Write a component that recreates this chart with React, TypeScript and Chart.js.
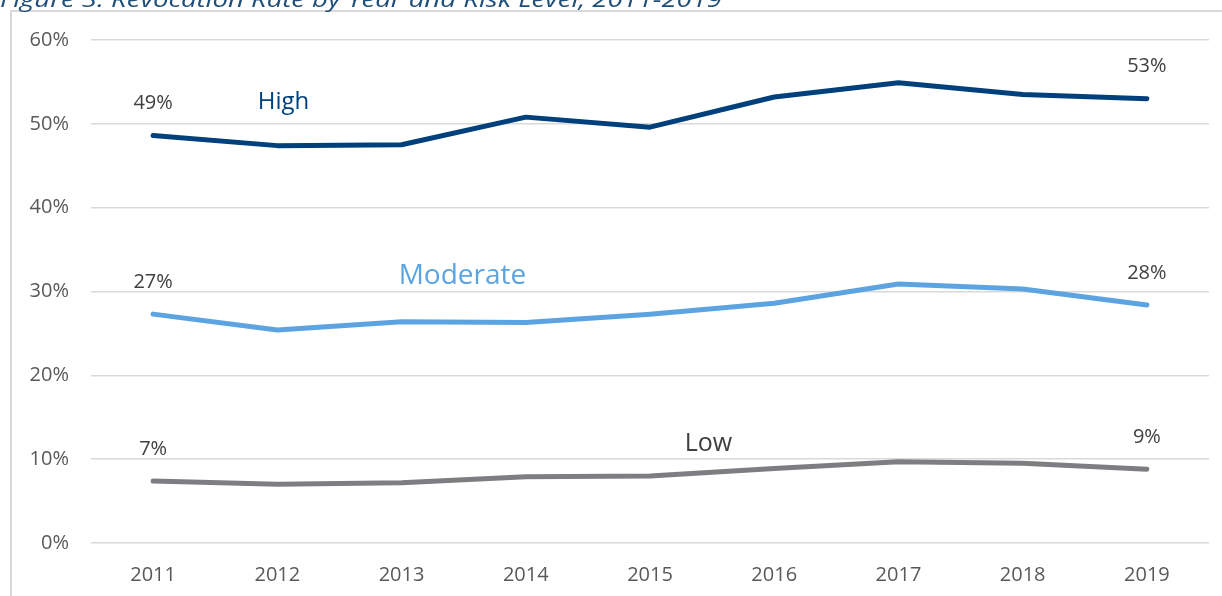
import React, { useEffect, useRef } from "react";
import { Chart, registerables } from "chart.js";

Chart.register(...registerables);

const titleText = "Figure 3. Revocation Rate by Year and Risk Level, 2011-2019";
const years = ["2011", "2012", "2013", "2014", "2015", "2016", "2017", "2018", "2019"];
const seriesNames = ["High", "Moderate", "Low"];
const highRates = [48.6, 47.4, 47.5, 50.8, 49.6, 53.2, 54.9, 53.5, 53.0];
const moderateRates = [27.3, 25.4, 26.4, 26.3, 27.3, 28.6, 30.9, 30.3, 28.4];
const lowRates = [7.4, 7.0, 7.2, 7.9, 8.0, 8.9, 9.7, 9.5, 8.8];
const yMin = 0;
const yMax = 60;
const yStep = 10;

// styling / placement (not data)
const seriesColors = ["#00407C", "#5BA4E1", "#7E7E82"];
const nameFonts = [24, 28, 25];
const namePlacement = [
  { index: 1.05, value: 52.6 },
  { index: 2.49, value: 31.9 },
  { index: 4.47, value: 11.8 },
];
const FONT = "'Open Sans', 'Noto Sans', sans-serif";

const decorPlugin = {
  id: "decor",
  beforeDraw(chart: any) {
    const ctx = chart.ctx;
    ctx.save();
    ctx.fillStyle = "#ffffff";
    ctx.fillRect(0, 0, chart.width, chart.height);
    ctx.fillStyle = "#D9D9D9";
    ctx.fillRect(10, 10, 2, chart.height);
    ctx.fillRect(10, 10, chart.width, 2);
    ctx.font = `italic 21px ${FONT}`;
    ctx.fillStyle = "#1F4E79";
    ctx.textBaseline = "alphabetic";
    ctx.textAlign = "left";
    const w = ctx.measureText(titleText).width;
    const target = 722;
    ctx.translate(0, 7);
    ctx.scale(target / w, 1);
    ctx.fillText(titleText, 0, 0);
    ctx.restore();
  },
  afterDatasetsDraw(chart: any) {
    const ctx = chart.ctx;
    const xs = chart.scales.x;
    const ys = chart.scales.y;
    ctx.save();
    ctx.textAlign = "center";
    ctx.textBaseline = "middle";
    chart.data.datasets.forEach((ds: any, i: number) => {
      const vals = ds.data as number[];
      ctx.font = `20px ${FONT}`;
      ctx.fillStyle = "#404040";
      const ends = [0, vals.length - 1];
      ends.forEach((idx) => {
        const x = xs.getPixelForValue(idx);
        const y = ys.getPixelForValue(vals[idx]) - 32;
        ctx.fillText(Math.round(vals[idx]) + "%", x, y);
      });
      const p = namePlacement[i];
      const xi = Math.floor(p.index);
      const frac = p.index - xi;
      const x0 = xs.getPixelForValue(xi);
      const x1 = xs.getPixelForValue(xi + 1);
      ctx.font = `${nameFonts[i]}px ${FONT}`;
      ctx.fillStyle = i === 2 ? "#404040" : seriesColors[i];
      ctx.fillText(seriesNames[i], x0 + (x1 - x0) * frac, ys.getPixelForValue(p.value));
    });
    ctx.restore();
  },
};

export default function App() {
  const ref = useRef<HTMLCanvasElement | null>(null);
  useEffect(() => {
    if (!ref.current) return;
    const seriesData = [highRates, moderateRates, lowRates];
    const chart = new Chart(ref.current, {
      type: "line",
      data: {
        labels: years,
        datasets: seriesData.map((d, i) => ({
          label: seriesNames[i],
          data: d,
          borderColor: seriesColors[i],
          backgroundColor: seriesColors[i],
          borderWidth: 5,
          pointRadius: 0,
          tension: 0,
          borderCapStyle: "round",
          borderJoinStyle: "round",
          fill: false,
        })),
      },
      options: {
        animation: false,
        responsive: false,
        maintainAspectRatio: false,
        layout: { padding: { top: 40, right: 13, left: 0, bottom: 0 } },
        plugins: {
          legend: { display: false },
          title: { display: false },
          tooltip: { enabled: false },
        },
        scales: {
          x: {
            offset: true,
            grid: { display: false, drawTicks: false },
            border: { display: false },
            ticks: { color: "#595959", font: { family: FONT, size: 20 }, padding: 20, maxRotation: 0 },
            afterFit: (s: any) => { s.height = 53; },
          },
          y: {
            min: yMin,
            max: yMax,
            grid: { color: "#D9D9D9", lineWidth: 1.5, drawTicks: false },
            border: { display: false },
            ticks: {
              stepSize: yStep,
              color: "#595959",
              font: { family: FONT, size: 20 },
              padding: 22,
              callback: (v: any) => v + "%",
            },
            afterFit: (s: any) => { s.width = 91; },
          },
        },
      },
      plugins: [decorPlugin],
    } as any);
    return () => chart.destroy();
  }, []);
  return (
    <div style={{ position: "fixed", left: 0, top: 0, width: 1222, height: 596, background: "#fff" }}>
      <canvas ref={ref} width={1222} height={596} style={{ width: 1222, height: 596, display: "block" }} />
    </div>
  );
}
